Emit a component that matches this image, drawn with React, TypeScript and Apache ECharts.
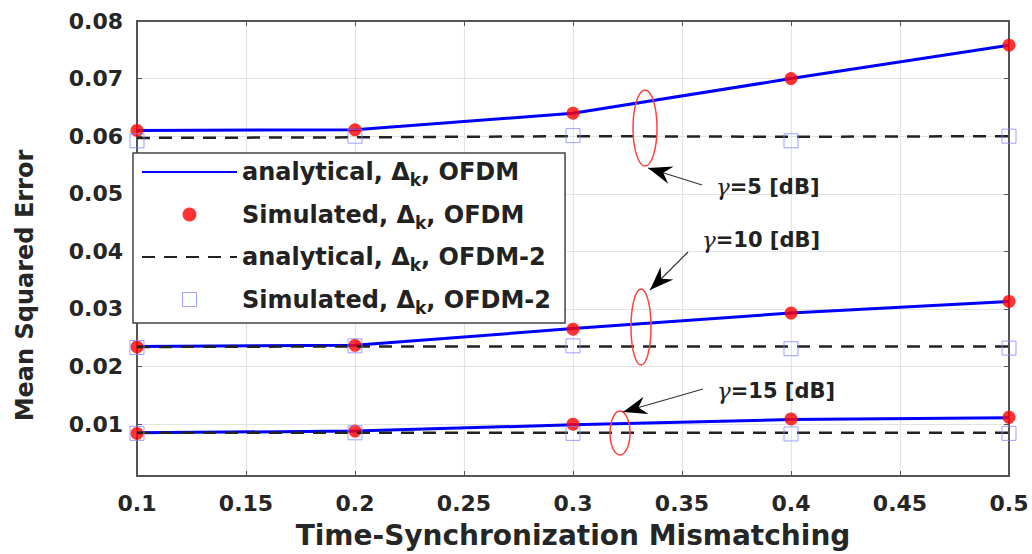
import React, { useEffect, useRef } from "react";
import * as echarts from "echarts";

const xValues = [0.1, 0.2, 0.3, 0.4, 0.5];

// gamma = 5 dB
const anaOFDM_g5 = [0.061, 0.0611, 0.064, 0.070, 0.0758];
const simOFDM_g5 = [0.0610, 0.0611, 0.0640, 0.0700, 0.0758];
const anaOFDM2_g5 = [0.0597, 0.0598, 0.0600, 0.0599, 0.0600];
const simOFDM2_g5 = [0.0592, 0.0600, 0.0601, 0.0592, 0.0600];

// gamma = 10 dB
const anaOFDM_g10 = [0.0235, 0.0237, 0.0266, 0.0293, 0.0313];
const simOFDM_g10 = [0.0234, 0.0237, 0.0265, 0.0293, 0.0313];
const anaOFDM2_g10 = [0.0234, 0.0235, 0.0235, 0.0235, 0.0235];
const simOFDM2_g10 = [0.0233, 0.0236, 0.0236, 0.0231, 0.0232];

// gamma = 15 dB
const anaOFDM_g15 = [0.0085, 0.0088, 0.0099, 0.0108, 0.0111];
const simOFDM_g15 = [0.0084, 0.0088, 0.0100, 0.0109, 0.0112];
const anaOFDM2_g15 = [0.0085, 0.0085, 0.0085, 0.0085, 0.0085];
const simOFDM2_g15 = [0.0084, 0.0085, 0.0084, 0.0083, 0.0084];

const yTicks = [0.01, 0.02, 0.03, 0.04, 0.05, 0.06, 0.07, 0.08];
const Y_MIN = 0.001;
const Y_MAX = 0.08;

const NAME_ANA = "analytical, Δk, OFDM";
const NAME_SIM = "Simulated, Δk, OFDM";
const NAME_ANA2 = "analytical, Δk, OFDM-2";
const NAME_SIM2 = "Simulated, Δk, OFDM-2";

const FONT = "DejaVu Sans";

const pair = (ys: number[]) => xValues.map((x, i) => [x, ys[i]]);

function arrowHead(tip: number[], tail: number[], len = 24, half = 9, notch = 16) {
  const dx = tail[0] - tip[0];
  const dy = tail[1] - tip[1];
  const d = Math.hypot(dx, dy);
  const ux = dx / d, uy = dy / d;
  const px = -uy, py = ux;
  const bx = tip[0] + ux * len, by = tip[1] + uy * len;
  const nx = tip[0] + ux * notch, ny = tip[1] + uy * notch;
  return [
    [tip[0], tip[1]],
    [bx + px * half, by + py * half],
    [nx, ny],
    [bx - px * half, by - py * half],
  ];
}

function arrow(tip: number[], tail: number[]) {
  return [
    {
      type: "line",
      shape: { x1: tail[0], y1: tail[1], x2: tip[0], y2: tip[1] },
      style: { stroke: "#333", lineWidth: 1.2 },
      z: 10,
    },
    {
      type: "polygon",
      shape: { points: arrowHead(tip, tail) },
      style: { fill: "#000" },
      z: 10,
    },
  ];
}

function gammaText(x: number, y: number, val: string) {
  return {
    type: "text",
    x,
    y,
    z: 10,
    style: {
      text: `{g|γ}{t|=${val} [dB]}`,
      verticalAlign: "middle",
      rich: {
        g: { fontFamily: "DejaVu Serif", fontSize: 23, fill: "#222", fontStyle: "italic" },
        t: { fontFamily: FONT, fontSize: 21, fontWeight: "bold", fill: "#222" },
      },
    },
  };
}

function ellipse(cx: number, cy: number, rx: number, ry: number) {
  return {
    type: "ellipse",
    shape: { cx, cy, rx, ry },
    style: { stroke: "#ff4040", fill: "none", lineWidth: 1.5 },
    z: 10,
  };
}

export default function App() {
  const ref = useRef<HTMLDivElement>(null);

  useEffect(() => {
    document.body.style.margin = "0";
    const chart = echarts.init(ref.current!, null, { renderer: "svg" });

    const lineSeries = (name: string, ys: number[]) => ({
      name,
      type: "line",
      data: pair(ys),
      symbol: "none",
      lineStyle: { color: "#0000ff", width: 3 },
      itemStyle: { color: "#0000ff" },
      z: 2,
    });
    const dotSeries = (name: string, ys: number[]) => ({
      name,
      type: "scatter",
      data: pair(ys),
      symbol: "circle",
      symbolSize: 13,
      itemStyle: { color: "#ff0000" },
      z: 3,
    });
    const dashSeries = (name: string, ys: number[]) => ({
      name,
      type: "line",
      data: pair(ys),
      symbol: "none",
      lineStyle: { color: "#222", width: 2.5, type: [13, 9] },
      itemStyle: { color: "#222" },
      z: 4,
    });
    const squareSeries = (name: string, ys: number[]) => ({
      name,
      type: "scatter",
      data: pair(ys),
      symbol: "rect",
      symbolSize: 14,
      itemStyle: { color: "rgba(0,0,0,0)", borderColor: "#8888ff", borderWidth: 1 },
      z: 5,
    });

    const axisLabelStyle = {
      fontFamily: FONT,
      fontWeight: "bold",
      fontSize: 22,
      color: "#262626",
    };

    chart.setOption({
      animation: false,
      backgroundColor: "#ffffff",
      grid: {
        left: 137,
        right: 23,
        top: 21,
        bottom: 77,
        show: true,
        borderColor: "#555",
        borderWidth: 2,
        backgroundColor: "#fff",
      },
      legend: {
        orient: "vertical",
        left: 133,
        top: 153,
        padding: [7, 14, 7, 8],
        itemWidth: 95,
        itemHeight: 14,
        itemGap: 14,
        backgroundColor: "#fff",
        borderColor: "#444",
        borderWidth: 1.5,
        data: [
          { name: NAME_ANA, itemStyle: { opacity: 0 } },
          { name: NAME_SIM },
          { name: NAME_ANA2, itemStyle: { opacity: 0 } },
          {
            name: NAME_SIM2,
            icon: "path://M0,0H10V10H0Z",
            symbolKeepAspect: true,
            itemStyle: { color: "rgba(0,0,0,0)", borderColor: "#8888ff", borderWidth: 1 },
          },
        ],
        formatter: (name: string) => {
          const parts = name.split("Δk");
          return `{a|${parts[0]}Δ}{k|k}{a|${parts[1]}}`;
        },
        textStyle: {
          fontFamily: FONT,
          fontWeight: "bold",
          fontSize: 24,
          color: "#222",
          rich: {
            a: { fontFamily: FONT, fontWeight: "bold", fontSize: 24, color: "#222" },
            k: {
              fontFamily: FONT,
              fontWeight: "bold",
              fontSize: 17,
              color: "#222",
              padding: [16, 0, 0, 0],
              verticalAlign: "bottom",
            },
          },
        },
      },
      xAxis: [
        {
          type: "value",
          min: 0.1,
          max: 0.5,
          interval: 0.05,
          name: "Time-Synchronization Mismatching",
          nameLocation: "middle",
          nameGap: 45,
          nameTextStyle: { fontFamily: FONT, fontWeight: "bold", fontSize: 28, color: "#262626" },
          axisLine: { show: true, lineStyle: { color: "#555", width: 2 } },
          axisTick: { show: true, inside: true, length: 5, lineStyle: { color: "#555" } },
          axisLabel: {
            ...axisLabelStyle,
            margin: 16,
            formatter: (v: number) => String(parseFloat(v.toFixed(2))),
          },
          splitLine: { show: true, lineStyle: { color: "#e3e3e3", width: 1.2 } },
        },
        {
          type: "value",
          position: "top",
          min: 0.1,
          max: 0.5,
          interval: 0.05,
          axisLine: { show: true, lineStyle: { color: "#555", width: 2 } },
          axisTick: { show: true, inside: true, length: 5, lineStyle: { color: "#555" } },
          axisLabel: { show: false },
          splitLine: { show: false },
        },
      ],
      yAxis: [
        {
          type: "value",
          min: Y_MIN,
          max: Y_MAX,
          name: "Mean Squared Error",
          nameLocation: "middle",
          nameGap: 100,
          nameTextStyle: {
            fontFamily: FONT,
            fontWeight: "bold",
            fontSize: 24,
            color: "#262626",
            padding: [0, 74, 0, 0],
          },
          axisLine: { show: true, lineStyle: { color: "#555", width: 2 } },
          axisTick: {
            show: true,
            inside: true,
            length: 5,
            customValues: yTicks,
            lineStyle: { color: "#555" },
          },
          axisLabel: {
            ...axisLabelStyle,
            margin: 14,
            customValues: yTicks,
            formatter: (v: number) => v.toFixed(2),
          },
          splitLine: { show: true, lineStyle: { color: "#e3e3e3", width: 1.2 } },
        },
        {
          type: "value",
          position: "right",
          min: Y_MIN,
          max: Y_MAX,
          axisLine: { show: true, lineStyle: { color: "#555", width: 2 } },
          axisTick: {
            show: true,
            inside: true,
            length: 5,
            customValues: yTicks,
            lineStyle: { color: "#555" },
          },
          axisLabel: { show: false, customValues: yTicks },
          splitLine: { show: false },
        },
      ],
      series: [
        lineSeries(NAME_ANA, anaOFDM_g5),
        lineSeries(NAME_ANA, anaOFDM_g10),
        lineSeries(NAME_ANA, anaOFDM_g15),
        dotSeries(NAME_SIM, simOFDM_g5),
        dotSeries(NAME_SIM, simOFDM_g10),
        dotSeries(NAME_SIM, simOFDM_g15),
        dashSeries(NAME_ANA2, anaOFDM2_g5),
        dashSeries(NAME_ANA2, anaOFDM2_g10),
        dashSeries(NAME_ANA2, anaOFDM2_g15),
        squareSeries(NAME_SIM2, simOFDM2_g5),
        squareSeries(NAME_SIM2, simOFDM2_g10),
        squareSeries(NAME_SIM2, simOFDM2_g15),
      ],
      graphic: [
        ellipse(645, 128, 12, 38),
        ellipse(641, 327, 10, 38),
        ellipse(620, 433, 10, 22),
        ...arrow([648, 168], [702, 185]),
        ...arrow([650, 290], [688, 252]),
        ...arrow([623, 412], [703, 389]),
        gammaText(716, 187, "5"),
        gammaText(702, 240, "10"),
        gammaText(717, 391, "15"),
      ],
    });

    return () => chart.dispose();
  }, []);

  return (
    <div
      ref={ref}
      style={{ width: 1032, height: 554, position: "absolute", left: 0, top: 0 }}
    />
  );
}
